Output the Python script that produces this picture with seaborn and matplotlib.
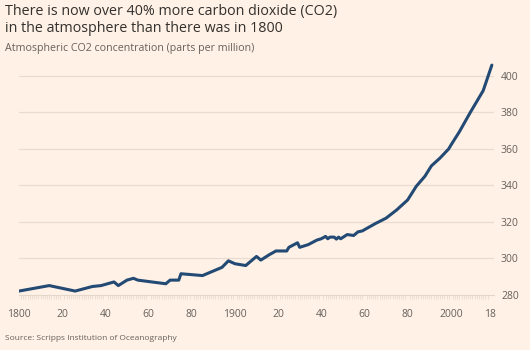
import matplotlib
matplotlib.use("Agg")
import matplotlib.pyplot as plt
import seaborn as sns
import pandas as pd
import numpy as np

years = [1800, 1814, 1826, 1834, 1838, 1844, 1846, 1850, 1853, 1855, 1868, 1870,
         1874, 1875, 1885, 1894, 1897, 1900, 1905, 1910, 1912, 1916, 1919, 1924,
         1925, 1929, 1930, 1934, 1938, 1940, 1942, 1943, 1944, 1946, 1947, 1948,
         1949, 1952, 1955, 1957, 1959, 1965, 1970, 1975, 1980, 1984, 1988, 1991,
         1995, 1999, 2000, 2004, 2009, 2015, 2019]
co2_ppm = [282, 285, 282, 284.5, 285, 287, 285, 288, 289, 288, 286, 288,
           288, 291.5, 290.5, 295, 298.6, 297, 296, 301, 299, 302, 304, 304,
           306, 308.5, 306, 307.5, 310, 310.7, 312, 310.7, 311.6, 311.6, 310.5, 311.6,
           310.7, 313, 312.5, 314.5, 315, 319, 322, 326.6, 332, 339.5, 345, 350.7,
           355, 360, 362, 369.5, 380, 392, 406]

x_ticks = [1800, 1820, 1840, 1860, 1880, 1900, 1920, 1940, 1960, 1980, 2000, 2018]
x_tick_labels = ["1800", "20", "40", "60", "80", "1900", "20", "40", "60", "80", "2000", "18"]
y_ticks = [280, 300, 320, 340, 360, 380, 400]

title = "There is now over 40% more carbon dioxide (CO2)\nin the atmosphere than there was in 1800"
subtitle = "Atmospheric CO2 concentration (parts per million)"
source = "Source: Scripps Institution of Oceanography"

BG = "#fff1e5"
LINE = "#234a74"
GRID = "#e8dbcf"
TEXT = "#33302e"
MUTED = "#66605c"

sns.set_theme(style="white")
plt.rcParams["font.family"] = ["Open Sans", "DejaVu Sans"]

df = pd.DataFrame({"year": years, "ppm": co2_ppm})

fig = plt.figure(figsize=(5.3, 3.5), dpi=100, facecolor=BG)
ax = fig.add_axes([19 / 530, 55.3 / 350, 475 / 530, 231.4 / 350])
ax.set_facecolor(BG)

sns.lineplot(data=df, x="year", y="ppm", ax=ax, color=LINE, linewidth=2.2)

ax.set_xlim(1800, 2020)
ax.set_ylim(280, 407)

ax.set_yticks(y_ticks)
ax.yaxis.tick_right()
ax.tick_params(axis="y", length=0, pad=5, labelsize=7.5, labelcolor=MUTED)
for y in y_ticks[1:]:
    ax.axhline(y, color=GRID, linewidth=0.9, zorder=0)

ax.set_xticks(x_ticks)
ax.set_xticklabels(x_tick_labels)
ax.set_xticks(np.arange(1800, 2019, 1), minor=True)
ax.tick_params(axis="x", which="major", length=7, width=0.8, color="#d4c7bb",
               labelsize=7.5, labelcolor=MUTED, pad=3)
ax.tick_params(axis="x", which="minor", length=3, width=0.5, color="#e3d6ca", bottom=True)

for s in ["top", "right", "left"]:
    ax.spines[s].set_visible(False)
ax.spines["bottom"].set_color("#e3d6ca")
ax.spines["bottom"].set_linewidth(0.8)
ax.set_xlabel("")
ax.set_ylabel("")

fig.text(5 / 530, 1 - 4 / 350, title, ha="left", va="top", fontsize=10.3,
         color=TEXT, linespacing=1.15)
fig.text(5 / 530, 1 - 43 / 350, subtitle, ha="left", va="top", fontsize=7.7, color=MUTED)
fig.text(5 / 530, 1 - 335 / 350, source, ha="left", va="top", fontsize=6.0, color=MUTED)

fig.savefig("out.png", dpi=100, facecolor=BG)
